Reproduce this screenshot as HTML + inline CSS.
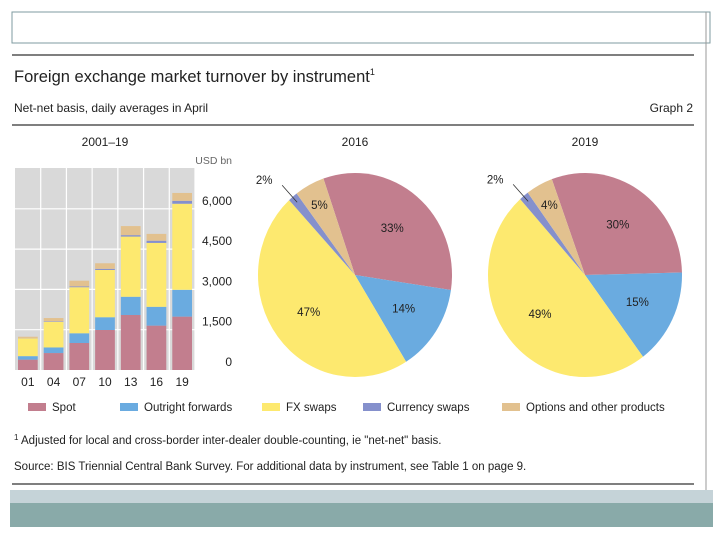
<!DOCTYPE html>
<html><head><meta charset="utf-8"><style>
body{margin:0;width:720px;height:540px;background:#fff;overflow:hidden;font-family:"Liberation Sans",sans-serif;}
svg text{font-family:"Liberation Sans",sans-serif;fill:#222;}
</style></head><body>
<svg id="s" width="720" height="540" viewBox="0 0 720 540">
<rect x="12" y="12" width="698" height="31" fill="none" stroke="#7f9ba0" stroke-width="1"/>
<line x1="12" y1="43" x2="12" y2="12" stroke="#7f9ba0"/>
<line x1="706" y1="12" x2="706" y2="500" stroke="#999"/>
<line x1="12" y1="55" x2="694" y2="55" stroke="#333" stroke-width="1.2"/>
<text x="14" y="82" font-size="16.5">Foreign exchange market turnover by instrument<tspan font-size="9" dy="-7">1</tspan></text>
<text x="14" y="112" font-size="12">Net-net basis, daily averages in April</text>
<text x="693" y="112" font-size="12" text-anchor="end">Graph 2</text>
<line x1="12" y1="125" x2="694" y2="125" stroke="#333" stroke-width="1.2"/>
<text x="105" y="146" font-size="12" text-anchor="middle">2001–19</text>
<text x="355" y="146" font-size="12" text-anchor="middle">2016</text>
<text x="585" y="146" font-size="12" text-anchor="middle">2019</text>
<text x="232" y="164" font-size="10.5" text-anchor="end" fill="#666" style="fill:#666">USD bn</text>
<g id="bars"></g>
<g id="pies"></g>
<g id="legend"></g>
<text x="14" y="444" font-size="11.5"><tspan font-size="8" dy="-4">1</tspan><tspan dy="4">  Adjusted for local and cross-border inter-dealer double-counting, ie "net-net" basis.</tspan></text>
<text x="14" y="470" font-size="11.5">Source: BIS Triennial Central Bank Survey. For additional data by instrument, see Table 1 on page 9.</text>
<line x1="12" y1="484" x2="694" y2="484" stroke="#333" stroke-width="1.2"/>
<rect x="10" y="490" width="703" height="13" fill="#c5d3d8"/>
<rect x="10" y="503" width="703" height="24" fill="#89aaa9"/>
</svg>
<script>
const years=["01","04","07","10","13","16","19"];
const spot=[386,631,1005,1489,2047,1652,1987];
const outright=[130,209,362,475,679,700,999];
const fxSwaps=[656,954,1714,1759,2240,2378,3202];
const currencySwaps=[7,21,31,43,54,82,108];
const options=[60,119,212,207,337,254,294];
const yTicks=[0,1500,3000,4500,6000];
const yTickLabels=["0","1,500","3,000","4,500","6,000"];
const pieYears=["2016","2019"];
const pie2016=[32.6,13.8,46.9,1.6,5.0];
const pie2019=[30.2,15.2,48.6,1.6,4.5];
const pieLabels2016=["33%","14%","47%","2%","5%"];
const pieLabels2019=["30%","15%","49%","2%","4%"];
const seriesNames=["Spot","Outright forwards","FX swaps","Currency swaps","Options and other products"];
const colors=["#c27e8e","#6aabe0","#fde96f","#8590cc","#e2c18f"];
const NS="http://www.w3.org/2000/svg";
function mk(t,a,p){const e=document.createElementNS(NS,t);for(const k in a)e.setAttribute(k,a[k]);p.appendChild(e);return e;}
// bar chart
const px0=15,px1=195,py0=370,py1=168;
const y=v=>py0-v*(40.3/1500);
const step=(px1-px0)/years.length;
const x=i=>px0+i*step;
const bg=document.getElementById('bars');
const plot=mk('rect',{x:px0,y:py1,width:px1-px0,height:py0-py1,fill:'#d9d9d9'},bg);


yTicks.forEach((t,i)=>{
 if(t>0){const g=mk('line',{x1:px0,x2:px1,y1:y(t),y2:y(t),stroke:'#fff','stroke-width':1.2},bg);
 
 }
 const tl=mk('text',{x:232,y:y(t)-4,'font-size':12,'text-anchor':'end'},bg);tl.textContent=yTickLabels[i];
 
 
});
years.forEach((yr,i)=>{
 const vl=mk('line',{x1:x(i+1),x2:x(i+1),y1:py1,y2:py0,stroke:'#fff','stroke-width':1.2},bg);
 
 
 const vals=[spot[i],outright[i],fxSwaps[i],currencySwaps[i],options[i]];
 let acc=0;
 vals.forEach((v,k)=>{
  const r=mk('rect',{x:x(i)+3,y:y(acc+v),width:step-6,height:y(acc)-y(acc+v),fill:colors[k]},bg);
  
  
  acc+=v;
 });
 const t=mk('text',{x:x(i)+step/2,y:386,'font-size':12,'text-anchor':'middle'},bg);t.textContent=yr;
 
 
});
// pies
const pg=document.getElementById('pies');
const pieData=[pie2016,pie2019],pieLbl=[pieLabels2016,pieLabels2019];
const cx=[355,585],startDeg=[-19,-20];
const rx=97,ry=102;
pieData.forEach((d,p)=>{
 const tot=d.reduce((a,b)=>a+b,0);
 let a=startDeg[p];
 d.forEach((v,k)=>{
  const sweep=v/tot*360,a2=a+sweep;
  const pt=(ang,f)=>[cx[p]+f*rx*Math.sin(ang*Math.PI/180),275-f*ry*Math.cos(ang*Math.PI/180)];
  const [x1,y1]=pt(a,1),[x2,y2]=pt(a2,1);
  const path=mk('path',{d:`M${cx[p]},275 L${x1},${y1} A${rx},${ry} 0 ${sweep>180?1:0} 1 ${x2},${y2} Z`,fill:colors[k]},pg);
  
  
  const mid=a+sweep/2;
  let lx,ly;
  if(k===3){const [ex,ey]=pt(mid,0.93);lx=ex-33;ly=ey-22;
   const ln=mk('line',{x1:ex,y1:ey,x2:ex-15,y2:ey-17,stroke:'#333','stroke-width':0.8},pg);
   
   
  } else {const f=(k===4)?0.78:0.6;[lx,ly]=pt(mid,f);}
  const t=mk('text',{x:lx,y:ly+4,'font-size':11.5,'text-anchor':'middle'},pg);t.textContent=pieLbl[p][k];
  
  
  a=a2;
 });
});
// legend
const lg=document.getElementById('legend');
const lx=[28,120,262,363,502];
seriesNames.forEach((n,k)=>{
 const r=mk('rect',{x:lx[k],y:403,width:18,height:8,fill:colors[k]},lg);
 
 
 const t=mk('text',{x:lx[k]+24,y:411,'font-size':11.5},lg);t.textContent=n;
 
 
});
</script>
</body></html>
